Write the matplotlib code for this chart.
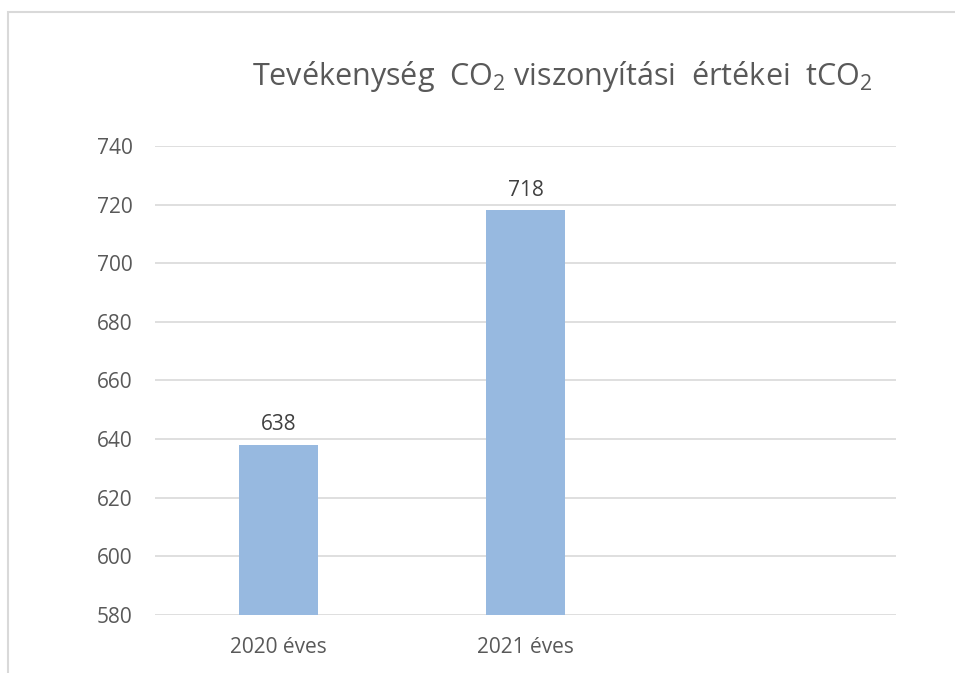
import matplotlib.pyplot as plt
from matplotlib.patches import Rectangle

# Chart data
categories = ['2020 éves', '2021 éves', '']
values = [638, 718, None]
y_ticks = [580, 600, 620, 640, 660, 680, 700, 720, 740]

plt.rcParams['font.family'] = ['Open Sans', 'DejaVu Sans']
plt.rcParams['mathtext.fontset'] = 'custom'
plt.rcParams['mathtext.rm'] = 'Open Sans'
plt.rcParams['mathtext.it'] = 'Open Sans'

text_color = '#595959'
grid_color = '#d9d9d9'
bar_color = '#97b9e0'

fig = plt.figure(figsize=(9.55, 6.73), dpi=100)
W, H = 955, 673

# chart area border (light gray frame)
fig.patches.append(Rectangle((8 / W, -0.05), 1.0, 1 - 12 / H + 0.05,
                             transform=fig.transFigure, fill=False,
                             edgecolor=grid_color, linewidth=1.5))

ax = fig.add_axes([155 / W, 1 - 615 / H, (896 - 155) / W, (615 - 146) / H])

x = list(range(len(categories)))
bar_x = [i for i, v in zip(x, values) if v is not None]
bar_v = [v for v in values if v is not None]
bars = ax.bar(bar_x, [v - 580 for v in bar_v], bottom=580, width=0.32,
              color=bar_color, zorder=3)

for xi, v in zip(bar_x, bar_v):
    ax.annotate(f'{v}', (xi, v), xytext=(0, 7), textcoords='offset points',
                ha='center', va='bottom', fontsize=15, color='#404040')

ax.set_xlim(-0.5, len(categories) - 0.5)
ax.set_ylim(580, 740)
ax.set_yticks(y_ticks)
ax.set_xticks(x)
ax.set_xticklabels(categories)
ax.tick_params(axis='both', length=0, labelsize=15, labelcolor=text_color)
ax.tick_params(axis='y', pad=16)
ax.tick_params(axis='x', pad=16)
ax.grid(axis='y', color=grid_color, linewidth=1.2, zorder=0)
for s in ax.spines.values():
    s.set_visible(False)

fig.text(562 / W, 1 - 77 / H,
         r'Tevékenység  CO$_2$ viszonyítási  értékei  tCO$_2$',
         ha='center', va='center', fontsize=22, color=text_color)

fig.savefig('out.png', dpi=100)
